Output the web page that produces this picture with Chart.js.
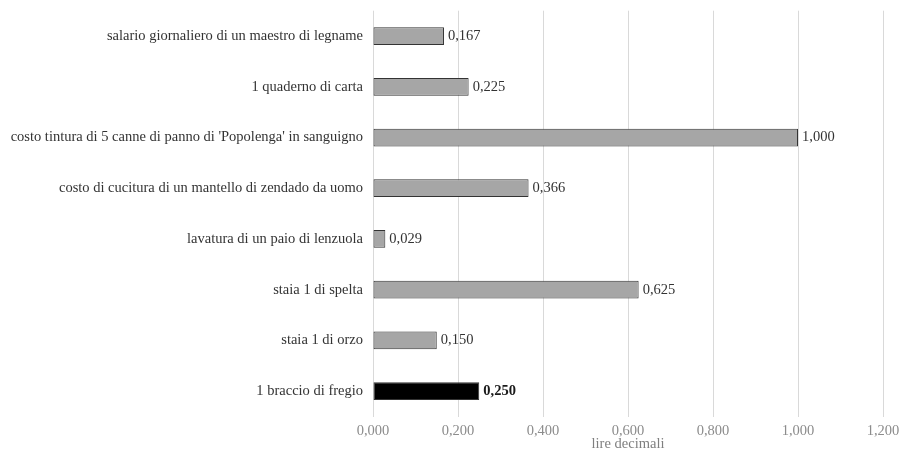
<!DOCTYPE html>
<html>
<head>
<meta charset="utf-8">
<script src="https://cdn.jsdelivr.net/npm/chart.js@4.4.0/dist/chart.umd.min.js"></script>
<style>
  html, body { margin: 0; padding: 0; background: #fff; }
  #wrap { width: 901px; height: 453px; position: relative; }
</style>
</head>
<body>
<div id="wrap"><canvas id="mainChart"></canvas></div>
<script>
// Categories, top to bottom as in the picture
const categories = [
    'salario giornaliero di un maestro di legname',
    '1 quaderno di carta',
    "costo tintura di 5 canne di panno di 'Popolenga' in sanguigno",
    'costo di cucitura di un mantello di zendado da uomo',
    'lavatura di un paio di lenzuola',
    'staia 1 di spelta',
    'staia 1 di orzo',
    '1 braccio di fregio'
];
const values = [0.167, 0.225, 1.000, 0.366, 0.029, 0.625, 0.150, 0.250];
const xTicks = [0, 0.2, 0.4, 0.6, 0.8, 1.0, 1.2];
const axisTitle = 'lire decimali';

const FONT = 'Liberation Serif';
const highlightIndex = values.length - 1;

const fmt = v => v.toFixed(3).replace('.', ',');

// Draws the value next to each bar
const valueLabels = {
    id: 'valueLabels',
    afterDatasetsDraw(chart) {
        const ctx = chart.ctx;
        const meta = chart.getDatasetMeta(0);
        ctx.save();
        ctx.textBaseline = 'middle';
        ctx.textAlign = 'left';
        meta.data.forEach((bar, i) => {
            const bold = i === highlightIndex;
            ctx.font = (bold ? 'bold ' : '') + '14.5px "' + FONT + '"';
            ctx.fillStyle = bold ? '#1a1a1a' : '#333333';
            ctx.fillText(fmt(values[i]), bar.x + 4, bar.y);
        });
        ctx.restore();
    }
};

new Chart(document.getElementById('mainChart').getContext('2d'), {
    type: 'bar',
    data: {
        labels: categories,
        datasets: [{
            data: values,
            backgroundColor: values.map((v, i) => i === highlightIndex ? '#000000' : '#a6a6a6'),
            borderColor: '#333333',
            borderWidth: 1,
            borderSkipped: false,
            categoryPercentage: 0.7,
            barPercentage: 0.5
        }]
    },
    options: {
        indexAxis: 'y',
        animation: false,
        responsive: true,
        maintainAspectRatio: false,
        layout: { padding: { left: 0, right: 18, top: 0, bottom: 0 } },
        plugins: {
            legend: { display: false },
            tooltip: { enabled: false }
        },
        scales: {
            x: {
                min: 0, max: 1.2,
                afterBuildTicks: axis => { axis.ticks = xTicks.map(v => ({ value: v })); },
                afterFit: axis => {
                    axis.height = 36.5;
                    axis.paddingLeft = 0;
                    axis.paddingRight = 0;
                },
                grid: { color: '#d9d9d9', drawTicks: false },
                border: { display: false },
                ticks: {
                    color: '#8c8c8c',
                    padding: 6,
                    font: { family: FONT, size: 14.5 },
                    callback: v => fmt(v)
                },
                title: {
                    display: true,
                    text: axisTitle,
                    color: '#7f7f7f',
                    padding: { top: 0, bottom: 0 },
                    font: { family: FONT, size: 14.5 }
                }
            },
            y: {
                afterFit: axis => { axis.width = 373; },
                grid: { display: false },
                border: { display: false },
                ticks: {
                    color: '#333333',
                    padding: 2,
                    font: { family: FONT, size: 14.5 }
                }
            }
        }
    },
    plugins: [valueLabels]
});
</script>
</body>
</html>
